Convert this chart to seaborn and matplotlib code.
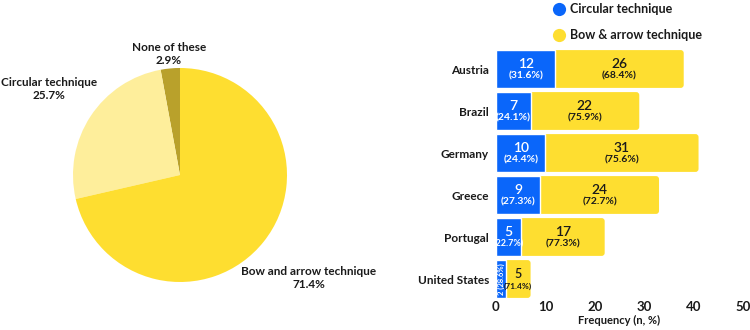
import numpy as np
import pandas as pd
import matplotlib
matplotlib.use("Agg")
import matplotlib.pyplot as plt
import seaborn as sns
from matplotlib.patches import FancyBboxPatch
from matplotlib.lines import Line2D

# ---- data ----
pie_labels = ["None of these", "Circular technique", "Bow and arrow technique"]
pie_values = [2.9, 25.7, 71.4]
pie_colors = ["#B9A12B", "#FEEE9B", "#FEDE30"]

countries = ["Austria", "Brazil", "Germany", "Greece", "Portugal", "United States"]
circular_n = [12, 7, 10, 9, 5, 2]
bow_n = [26, 22, 31, 24, 17, 5]
circular_pct = ["31.6%", "24.1%", "24.4%", "27.3%", "22.7%", "28.6%"]
bow_pct = ["68.4%", "75.9%", "75.6%", "72.7%", "77.3%", "71.4%"]
x_ticks = [0, 10, 20, 30, 40, 50]

BLUE = "#0A66FA"
YELLOW = "#FEDE30"
TXT = "#1a1a1a"

sns.set_theme(style="white")
plt.rcParams["font.family"] = ["Lato", "DejaVu Sans"]

fig = plt.figure(figsize=(7.5, 3.3), dpi=100)

# ---- pie ----
axp = fig.add_axes([73/750, 1-282/330, 214/750, 214/330])
axp.pie(pie_values, colors=pie_colors, startangle=90, counterclock=True,
        wedgeprops=dict(linewidth=0))
axp.set_xlim(-1, 1); axp.set_ylim(-1, 1)
axp.set_aspect("equal")
axp.axis("off")
pie_text_pos = [(169/750, 1-54/330), (49/750, 1-89/330), (309/750, 1-278/330)]
for lab, val, (px, py) in zip(pie_labels, pie_values, pie_text_pos):
    fig.text(px, py, f"{lab}\n{val}%", ha="center", va="center", fontsize=8.5,
             fontweight="bold", color=TXT, linespacing=1.25)

# ---- bars ----
axb = fig.add_axes([496/750, 1-300/330, 247/750, 252/330])
df = pd.DataFrame({"country": countries, "circ": circular_n, "bow": bow_n})
df["total"] = df["circ"] + df["bow"]
sns.barplot(data=df, y="country", x="total", color=YELLOW, width=0.9,
            saturation=1, ax=axb, orient="h")
# replace yellow bars with rounded ones
for p in list(axb.patches):
    x0, y0, w, h = p.get_x(), p.get_y(), p.get_width(), p.get_height()
    p.remove()
    fb = FancyBboxPatch((x0, y0), w, h,
                        boxstyle="round,pad=0,rounding_size=0.6",
                        mutation_aspect=0.12, facecolor=YELLOW, edgecolor="none")
    axb.add_patch(fb)
sns.barplot(data=df, y="country", x="circ", color=BLUE, width=0.9,
            saturation=1, ax=axb, orient="h")

for i, (c, b, cp, bp) in enumerate(zip(circular_n, bow_n, circular_pct, bow_pct)):
    if c >= 5:
        fs_pct = 7.5 if c >= 7 else 6.5
        axb.text(c/2, i-0.12, str(c), ha="center", va="center", color="white",
                 fontsize=10, fontweight="semibold")
        axb.text(c/2, i+0.17, f"({cp})", ha="center", va="center", color="white",
                 fontsize=fs_pct, fontweight="bold")
    else:
        axb.text(c/2, i, f"{c} ({cp})", ha="center", va="center", color="white",
                 fontsize=5.5, fontweight="bold", rotation=90)
    xm = c + b/2
    small = b < 8
    axb.text(xm, i-0.12, str(b), ha="center", va="center", color=TXT,
             fontsize=10 if not small else 9, fontweight="semibold")
    axb.text(xm, i+0.17, f"({bp})", ha="center", va="center", color=TXT,
             fontsize=7.5 if not small else 6, fontweight="bold")

axb.set_xlim(0, 50)
axb.set_ylim(5.5, -0.5)
axb.set_xticks(x_ticks)
axb.set_xticklabels([str(t) for t in x_ticks], fontsize=9.5, fontweight="bold", color=TXT)
axb.set_yticks(range(len(countries)))
axb.set_yticklabels(countries, fontsize=8.5, fontweight="bold", color=TXT)
axb.tick_params(axis="y", length=0, pad=5)
axb.tick_params(axis="x", length=0, pad=1)
axb.set_ylabel("")
axb.set_xlabel("Frequency (n, %)", fontsize=8, fontweight="bold", color=TXT, labelpad=1)
sns.despine(ax=axb, left=True, bottom=True)

handles = [Line2D([], [], marker="o", linestyle="none", markersize=9.5,
                  markerfacecolor=BLUE, markeredgecolor="none"),
           Line2D([], [], marker="o", linestyle="none", markersize=9.5,
                  markerfacecolor=YELLOW, markeredgecolor="none")]
fig.legend(handles, ["Circular technique", "Bow & arrow technique"],
           loc="upper left", bbox_to_anchor=(540/750, 1+8/330), frameon=False,
           prop=dict(size=9, weight="bold"), labelspacing=1.1,
           handletextpad=0.3, handlelength=1.2, labelcolor=TXT)

fig.savefig("out.png", dpi=100)
